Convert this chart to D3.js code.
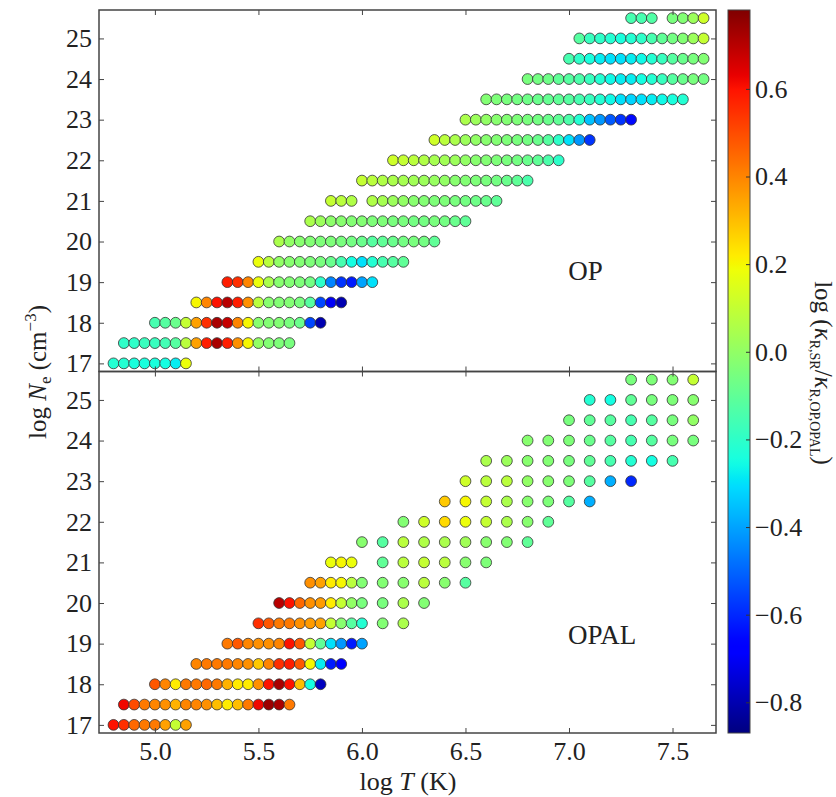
<!DOCTYPE html>
<html>
<head>
<meta charset="utf-8">
<script src="https://cdn.jsdelivr.net/npm/d3@7"></script>
<style>
  html, body { margin: 0; padding: 0; background: #fff; }
  svg text { font-family: "Liberation Serif", "Times New Roman", serif; fill: #222; }
</style>
</head>
<body>
<div id="viz"></div>
<script>
// rows of the opacity grid: log Ne, first log T, log T step, colour values (null = no point)
const opRows = [
  {ne:17.0, t0:4.80, step:0.05, v:[-0.22,-0.22,-0.24,-0.24,-0.24,-0.25,-0.28,0.18]},
  {ne:17.5, t0:4.85, step:0.05, v:[-0.2,-0.2,-0.18,-0.18,-0.16,-0.12,0.08,0.35,0.58,0.72,0.58,0.38,0.2,0.0,-0.03,-0.04,-0.05]},
  {ne:18.0, t0:5.00, step:0.05, v:[-0.15,-0.12,-0.08,0.1,0.35,0.55,0.72,0.68,0.4,0.2,-0.02,-0.03,-0.03,-0.05,-0.08,-0.55,-0.8]},
  {ne:18.5, t0:5.20, step:0.05, v:[0.2,0.4,0.6,0.7,0.58,0.38,0.08,-0.02,-0.03,-0.03,-0.05,-0.12,-0.55,-0.7,-0.8]},
  {ne:19.0, t0:5.35, step:0.05, v:[0.58,0.55,0.4,0.18,0.05,-0.02,-0.03,-0.04,-0.06,-0.2,-0.45,-0.58,-0.62,-0.4,-0.3]},
  {ne:19.5, t0:5.50, step:0.05, v:[0.18,0.08,0.0,-0.02,-0.03,-0.04,-0.05,-0.08,-0.15,-0.25,-0.3,-0.22,-0.15,-0.12,-0.1]},
  {ne:20.0, t0:5.60, step:0.05, v:[0.05,0.0,-0.02,-0.03,-0.04,-0.04,-0.05,-0.06,-0.08,-0.12,-0.1,-0.08,-0.06,-0.05,-0.06,-0.1]},
  {ne:20.5, t0:5.75, step:0.05, v:[0.05,0.02,-0.01,-0.02,-0.03,-0.03,-0.04,-0.04,-0.05,-0.05,-0.06,-0.06,-0.05,-0.06,-0.08,-0.1]},
  {ne:21.0, t0:5.85, step:0.05, v:[0.1,0.08,0.06,null,0.06,0.04,0.02,0.0,-0.02,-0.03,-0.04,-0.04,-0.05,-0.06,-0.07,-0.08,-0.1]},
  {ne:21.5, t0:6.00, step:0.05, v:[0.1,0.08,0.06,0.05,0.04,0.03,0.02,0.01,0.0,-0.02,-0.03,-0.04,-0.05,-0.06,-0.08,-0.1,-0.14]},
  {ne:22.0, t0:6.15, step:0.05, v:[0.12,0.1,0.08,0.06,0.04,0.03,0.02,0.0,-0.02,-0.03,-0.04,-0.05,-0.06,-0.08,-0.1,-0.14,-0.2]},
  {ne:22.5, t0:6.35, step:0.05, v:[0.12,0.08,0.05,0.02,0.0,-0.02,-0.03,-0.04,-0.05,-0.06,-0.08,-0.12,-0.2,-0.3,-0.42,-0.58]},
  {ne:23.0, t0:6.50, step:0.05, v:[0.05,0.02,0.0,-0.02,-0.03,-0.04,-0.05,-0.06,-0.08,-0.1,-0.14,-0.22,-0.35,-0.42,-0.52,-0.58,-0.65]},
  {ne:23.5, t0:6.60, step:0.05, v:[-0.03,-0.04,-0.05,-0.06,-0.07,-0.08,-0.09,-0.1,-0.12,-0.15,-0.18,-0.22,-0.26,-0.3,-0.32,-0.3,-0.28,-0.26,-0.24,-0.22]},
  {ne:24.0, t0:6.80, step:0.05, v:[-0.05,-0.06,-0.07,-0.1,-0.12,-0.14,-0.18,-0.22,-0.26,-0.28,-0.28,-0.25,-0.22,-0.18,-0.12,-0.08,-0.05,-0.06]},
  {ne:24.5, t0:7.00, step:0.05, v:[-0.15,-0.2,-0.24,-0.28,-0.3,-0.3,-0.28,-0.26,-0.22,-0.18,-0.12,-0.08,-0.05,-0.03]},
  {ne:25.0, t0:7.05, step:0.05, v:[-0.12,-0.18,-0.2,-0.22,-0.24,-0.22,-0.2,-0.15,-0.1,-0.06,-0.03,0.02,0.1]},
  {ne:25.5, t0:7.30, step:0.05, v:[-0.15,-0.15,-0.13,null,-0.05,-0.03,0.02,0.12]}
];

const opalRows = [
  {ne:17.0, t0:4.80, step:0.05, v:[0.6,0.55,0.45,0.42,0.42,0.35,0.1,0.35]},
  {ne:17.5, t0:4.85, step:0.05, v:[0.62,0.5,0.42,0.4,0.38,0.32,0.4,0.4,0.38,0.3,0.22,0.3,0.42,0.62,0.74,0.72,0.42]},
  {ne:18.0, t0:5.00, step:0.05, v:[0.48,0.4,0.22,0.42,0.42,0.45,0.42,0.32,0.22,0.22,0.38,0.6,0.72,0.6,0.3,-0.25,-0.78]},
  {ne:18.5, t0:5.20, step:0.05, v:[0.4,0.42,0.42,0.42,0.4,0.38,0.28,0.4,0.55,0.58,0.48,0.2,-0.28,-0.62,-0.68]},
  {ne:19.0, t0:5.35, step:0.05, v:[0.42,0.48,0.4,0.38,0.38,0.4,0.6,0.48,0.1,-0.1,-0.3,-0.42,-0.62,-0.4]},
  {ne:19.5, t0:5.50, step:0.05, v:[0.55,0.48,0.42,0.42,0.38,0.36,0.35,0.1,-0.02,-0.12,-0.22]},
  {ne:19.5, t0:6.10, step:0.10, v:[-0.03,0.05]},
  {ne:20.0, t0:5.60, step:0.05, v:[0.7,0.6,0.45,0.38,0.36,0.22,0.1,0.0,-0.05]},
  {ne:20.0, t0:6.10, step:0.10, v:[-0.05,0.05,-0.03]},
  {ne:20.5, t0:5.75, step:0.05, v:[0.38,0.35,0.22,0.2,0.08,-0.03]},
  {ne:20.5, t0:6.10, step:0.10, v:[-0.03,-0.02,0.08,-0.02,-0.12]},
  {ne:21.0, t0:5.85, step:0.05, v:[0.18,0.2,0.18]},
  {ne:21.0, t0:6.10, step:0.10, v:[-0.1,0.08,0.1,0.08,-0.02,-0.04]},
  {ne:21.5, t0:6.00, step:0.10, v:[-0.02,-0.12,0.08,0.06,0.05,0.03,-0.02,-0.03,-0.1]},
  {ne:22.0, t0:6.20, step:0.10, v:[-0.03,0.12,0.25,0.18,0.1,0.05,-0.02,-0.1]},
  {ne:22.5, t0:6.40, step:0.10, v:[0.28,0.2,0.1,0.05,-0.02,-0.04,-0.12,-0.38]},
  {ne:23.0, t0:6.50, step:0.10, v:[0.12,0.08,0.08,0.0,-0.02,-0.04,-0.12,-0.38,-0.6]},
  {ne:23.5, t0:6.60, step:0.10, v:[0.05,0.02,-0.02,-0.03,-0.05,-0.1,-0.15,-0.22,-0.25,-0.15]},
  {ne:24.0, t0:6.80, step:0.10, v:[-0.02,-0.03,-0.04,-0.08,-0.12,-0.15,-0.12,-0.05,-0.05]},
  {ne:24.5, t0:7.00, step:0.10, v:[-0.05,-0.1,-0.12,-0.15,-0.12,-0.05,0.0]},
  {ne:25.0, t0:7.10, step:0.10, v:[-0.22,-0.25,-0.1,-0.05,-0.04,-0.02]},
  {ne:25.5, t0:7.30, step:0.10, v:[-0.05,-0.04,-0.03,0.1]}
];

const xTicks = [5.0, 5.5, 6.0, 6.5, 7.0, 7.5];
const yTicks = [17, 18, 19, 20, 21, 22, 23, 24, 25];
const cbTicks = [-0.8, -0.6, -0.4, -0.2, 0.0, 0.2, 0.4, 0.6];
const tDomain = [4.73, 7.71];
const neDomain = [16.8, 25.7];
const cDomain = [-0.87, 0.78];

const W = 836, H = 797;
const L = 99, R = 716, TOP = 10, MID = 371.5, BOT = 733;
const CBX = 728, CBW = 22;

const svg = d3.select('#viz').append('svg').attr('width', W).attr('height', H);

// jet colormap
const jetR = d3.scaleLinear().domain([0,0.35,0.66,0.89,1]).range([0,0,1,1,0.5]);
const jetG = d3.scaleLinear().domain([0,0.125,0.375,0.64,0.91,1]).range([0,0,1,1,0,0]);
const jetB = d3.scaleLinear().domain([0,0.11,0.34,0.65,1]).range([0.5,1,1,0,0]);
const norm = d3.scaleLinear().domain(cDomain).range([0,1]).clamp(true);
const jet = f => d3.rgb(255*jetR(f), 255*jetG(f), 255*jetB(f)).formatHex();
const color = v => jet(norm(v));

const x = d3.scaleLinear().domain(tDomain).range([L, R]);

function points(rows){
  return rows.flatMap(r => r.v.map((v,i) => ({t: r.t0 + i*r.step, ne: r.ne, v})))
             .filter(d => d.v !== null);
}

function panel(rows, y0, y1, label, labelPos, bottomLabels){
  const y = d3.scaleLinear().domain(neDomain).range([y1, y0]);
  const g = svg.append('g');

  g.append('g').selectAll('circle').data(points(rows)).enter().append('circle')
    .attr('cx', d => x(d.t)).attr('cy', d => y(d.ne)).attr('r', 5.4)
    .attr('fill', d => color(d.v))
    .attr('stroke', '#333').attr('stroke-width', 0.8);

  const yl = g.append('g').attr('transform', `translate(${L},0)`)
    .call(d3.axisLeft(y).tickValues(yTicks).tickSize(-5).tickPadding(7).tickFormat(d3.format('d')));
  const yr = g.append('g').attr('transform', `translate(${R},0)`)
    .call(d3.axisRight(y).tickValues(yTicks).tickSize(-5).tickFormat(''));
  const xt = g.append('g').attr('transform', `translate(0,${y0})`)
    .call(d3.axisTop(x).tickValues(xTicks).tickSize(-5).tickFormat(''));
  const xb = g.append('g').attr('transform', `translate(0,${y1})`)
    .call(d3.axisBottom(x).tickValues(xTicks).tickSize(-5).tickPadding(9)
      .tickFormat(bottomLabels ? d3.format('.1f') : ''));
  [yl, yr, xt, xb].forEach(a => {
    a.select('.domain').remove();
    a.selectAll('line').attr('stroke', '#444').attr('stroke-width', 1);
    a.selectAll('text').attr('font-size', 26).attr('fill', '#222')
      .style('font-family', '"Liberation Serif", "Times New Roman", serif');
  });

  g.append('rect').attr('x', L).attr('y', y0).attr('width', R - L).attr('height', y1 - y0)
    .attr('fill', 'none').attr('stroke', '#444').attr('stroke-width', 1.5);

  g.append('text').attr('x', x(labelPos[0])).attr('y', y(labelPos[1]))
    .attr('text-anchor', 'middle').attr('font-size', 27).text(label);
}

panel(opRows, TOP, MID, 'OP', [7.08, 19.05], false);
panel(opalRows, MID, BOT, 'OPAL', [7.16, 19.0], true);

// axis titles
const xl = svg.append('text').attr('x', 408).attr('y', 790).attr('text-anchor', 'middle').attr('font-size', 26);
xl.append('tspan').text('log ');
xl.append('tspan').attr('font-style', 'italic').text('T');
xl.append('tspan').text(' (K)');

const ylab = svg.append('text').attr('transform', 'translate(46,372) rotate(-90)')
  .attr('text-anchor', 'middle').attr('font-size', 25);
ylab.append('tspan').text('log ');
ylab.append('tspan').attr('font-style', 'italic').text('N');
ylab.append('tspan').attr('font-size', 17).attr('dy', 5).text('e');
ylab.append('tspan').attr('dy', -5).text(' (cm');
ylab.append('tspan').attr('font-size', 17).attr('dy', -10).text('\u22123');
ylab.append('tspan').attr('dy', 10).text(')');

// colorbar
const cy = d3.scaleLinear().domain(cDomain).range([BOT, TOP]);
const grad = svg.append('defs').append('linearGradient').attr('id', 'jetgrad')
  .attr('x1', 0).attr('y1', 1).attr('x2', 0).attr('y2', 0);
grad.selectAll('stop').data(d3.range(0, 1.0001, 0.01)).enter().append('stop')
  .attr('offset', d => d).attr('stop-color', d => jet(d));
svg.append('rect').attr('x', CBX).attr('y', TOP).attr('width', CBW).attr('height', BOT - TOP)
  .attr('fill', 'url(#jetgrad)').attr('stroke', '#444').attr('stroke-width', 1);
const cb = svg.append('g').attr('transform', `translate(${CBX + CBW},0)`)
  .call(d3.axisRight(cy).tickValues(cbTicks).tickSize(-4).tickPadding(5).tickFormat(d3.format('.1f')));
cb.select('.domain').remove();
cb.selectAll('line').attr('stroke', '#333');
cb.selectAll('text').attr('font-size', 26).attr('fill', '#222')
  .style('font-family', '"Liberation Serif", "Times New Roman", serif');

const cl = svg.append('text').attr('transform', 'translate(815,373) rotate(90)')
  .attr('text-anchor', 'middle').attr('font-size', 25);
cl.append('tspan').text('log (');
cl.append('tspan').attr('font-style', 'italic').text('\u03ba');
cl.append('tspan').attr('font-size', 14).attr('dy', 5).text('R,SR');
cl.append('tspan').attr('dy', -5).text('/');
cl.append('tspan').attr('font-style', 'italic').text('\u03ba');
cl.append('tspan').attr('font-size', 14).attr('dy', 5).text('R,OP,OPAL');
cl.append('tspan').attr('dy', -5).text(')');
</script>
</body>
</html>
